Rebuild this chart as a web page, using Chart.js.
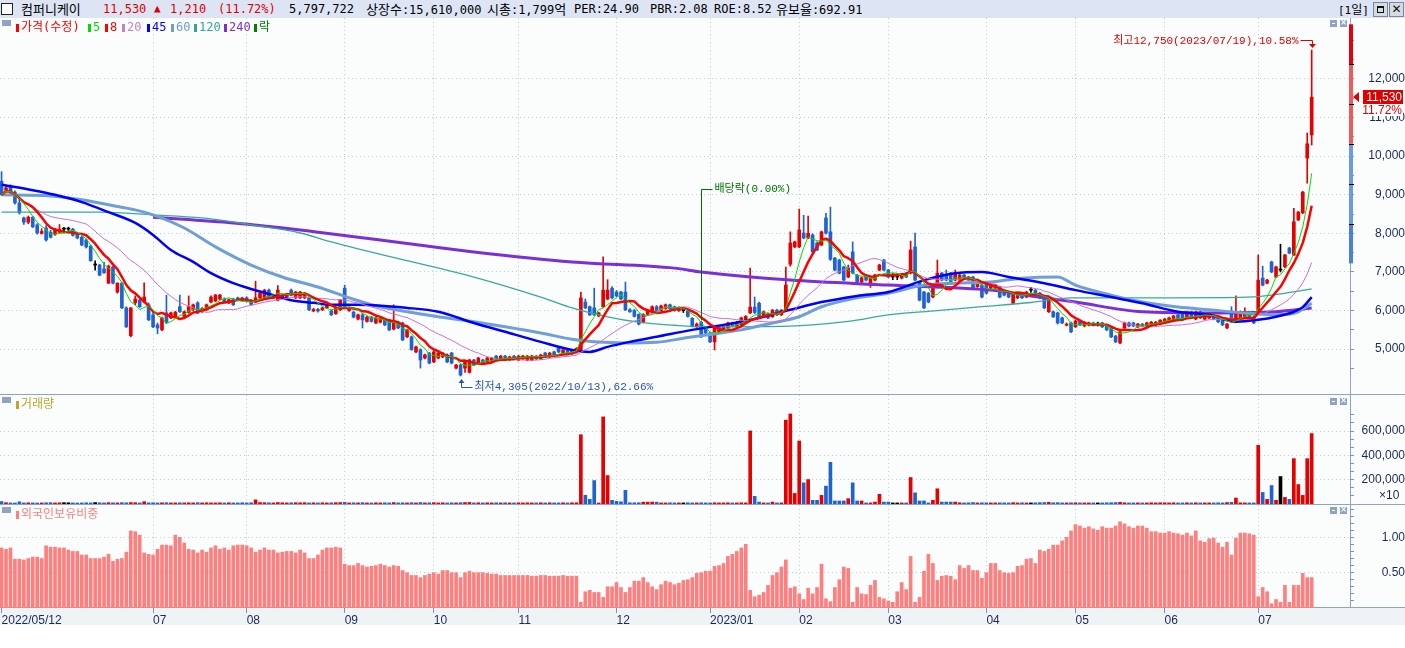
<!DOCTYPE html>
<html><head><meta charset="utf-8">
<script src="https://cdn.jsdelivr.net/npm/chart.js@4.4.1/dist/chart.umd.min.js"></script>
<style>
html,body{margin:0;padding:0;}
body{width:1405px;height:648px;position:relative;overflow:hidden;background:#fff;}
.abs{position:absolute;}
.ht{position:absolute;top:0;height:18px;line-height:18px;white-space:nowrap;font-family:"DejaVu Sans Mono","Noto Sans CJK KR",monospace;font-size:12px;color:#000;}
.ko{font-family:"Noto Sans CJK KR","DejaVu Sans Mono",sans-serif;font-size:13px;}
.sep{position:absolute;background:#8ea3c6;}
canvas{position:absolute;left:0;}
.lt{position:absolute;white-space:nowrap;font-family:"DejaVu Sans Mono","Noto Sans CJK KR",monospace;font-size:12px;line-height:15px;}
.mk{position:absolute;width:3px;height:8px;}
.gsq{position:absolute;width:9px;height:6px;background:#8ea3c6;}
.pb{position:absolute;width:7px;height:7px;background:#8ea3c6;}
.pb i{position:absolute;left:2px;top:3px;width:3px;height:1px;background:#fff;}
.pb b{position:absolute;left:0;top:-4px;width:7px;text-align:center;font:bold 8px "DejaVu Sans";color:#fff;line-height:14px;}
.hb{position:absolute;top:2px;width:13px;height:13px;background:#d6dae2;border:1px solid #7d8798;}
</style></head><body>
<div class="abs" style="left:0;top:0;width:1405px;height:18px;background:#dde5f5;"></div>
<div class="abs" style="left:0;top:18px;width:1405px;height:589px;background:#fbfdfd;"></div>
<div class="abs" style="left:0;top:607px;width:1405px;height:18px;background:#eef3f5;"></div>
<div class="sep" style="left:0;top:394px;width:1405px;height:1px;"></div>
<div class="sep" style="left:0;top:504px;width:1405px;height:1px;"></div>
<div class="sep" style="left:0;top:607px;width:1405px;height:1px;"></div>
<div class="sep" style="left:1350px;top:18px;width:1px;height:589px;"></div>

<canvas id="cp" width="1405" height="376" style="top:18px"></canvas>
<canvas id="cv" width="1405" height="109" style="top:395px"></canvas>
<canvas id="cf" width="1405" height="120" style="top:505px"></canvas>

<!-- header -->
<div class="abs" style="left:1px;top:3px;width:10px;height:10px;background:#fff;border:1px solid #222;"></div>
<div class="ht ko" style="left:21px;">컴퍼니케이</div>
<div class="ht" style="left:103px;color:#e00000;">11,530</div>
<div class="ht" style="left:154px;color:#e00000;font-size:11px;">▲</div>
<div class="ht" style="left:170px;color:#e00000;">1,210</div>
<div class="ht" style="left:218px;color:#e00000;">(11.72%)</div>
<div class="ht" style="left:289px;">5,797,722</div>
<div class="ht" style="left:366px;"><span class="ko">상장수</span>:15,610,000</div>
<div class="ht" style="left:487px;"><span class="ko">시총</span>:1,799<span class="ko">억</span></div>
<div class="ht" style="left:574px;">PER:24.90</div>
<div class="ht" style="left:650px;">PBR:2.08</div>
<div class="ht" style="left:714px;">ROE:8.52</div>
<div class="ht" style="left:776px;"><span class="ko">유보율</span>:692.91</div>
<div class="ht" style="left:1338px;font-size:11px;">[1<span class="ko" style="font-size:12px">일</span>]</div>
<div class="hb" style="left:1373px;"><div style="position:absolute;left:3px;top:3px;width:5px;height:4px;border:1px solid #111;border-top-width:2px;"></div></div>
<div class="hb" style="left:1389px;"><div style="position:absolute;left:0;top:0;width:13px;text-align:center;font:bold 12px 'DejaVu Sans';line-height:13px;color:#111;">✕</div></div>

<!-- price legend -->
<div class="gsq" style="left:2px;top:20px;"></div>
<div id="legend"></div>
<div class="pb" style="left:1330px;top:20px;"><i></i></div>
<div class="pb" style="left:1340px;top:20px;"><b>×</b></div>

<!-- volume legend -->
<div class="gsq" style="left:2px;top:397px;"></div>
<div class="mk" style="left:16px;top:401px;background:#b9a82a;"></div>
<div class="lt" style="left:21px;top:397px;color:#b9a82a;">거래량</div>
<div class="pb" style="left:1330px;top:398px;"><i></i></div>
<div class="pb" style="left:1340px;top:398px;"><b>×</b></div>
<div class="lt" style="left:1379px;top:488px;color:#1b2a55;font-family:'Liberation Sans';">×10</div>

<!-- foreign legend -->
<div class="gsq" style="left:2px;top:507px;"></div>
<div class="mk" style="left:16px;top:511px;background:#ff7f7f;"></div>
<div class="lt" style="left:21px;top:507px;color:#ff7f7f;">외국인보유비중</div>
<div class="pb" style="left:1330px;top:507px;"><i></i></div>
<div class="pb" style="left:1340px;top:507px;"><b>×</b></div>

<script>
// ---------------- data ----------------
const tickLabels = ['2022/05/12','07','08','09','10','11','12','2023/01','02','03','04','05','06','07'];
const monthBars  = [34,21,22,20,19,22,21,20,20,22,20,20,21,13];

const open = [
9350,9120,9200,9070,8790,8400,8290,8420,8220,8000,
8140,8030,7980,8030,8110,8110,8110,8000,7900,7830,
7670,7180,7180,7080,6710,7130,6480,6710,6070,5350,
6200,6270,6220,6150,5890,5630,5500,5940,5810,5840,
6100,5850,5950,6020,6200,5970,6020,6220,6250,6300,
6300,6200,6300,6330,6330,6330,6270,6220,6330,6330,
6530,6330,6270,6330,6330,6530,6330,6330,6330,6330,
5990,6030,6020,6070,5990,5920,6020,6580,6000,5960,
5780,5890,5720,5830,5680,5700,5760,5760,5520,5700,
5680,5320,5320,4930,4990,4770,4900,4670,4770,4800,
4850,4900,4510,4590,4510,4400,4720,4640,4720,4670,
4690,4820,4720,4820,4720,4820,4720,4750,4720,4720,
4820,4750,4900,4800,4930,5030,4880,4980,4880,4930,
4950,6220,6100,6070,5860,6100,6300,6580,6480,6480,
6480,6020,6000,5900,5700,5900,5950,6100,6000,6050,
6150,6100,6000,6000,5980,5800,5580,5700,5550,5420,
5190,5450,5500,5550,5680,5600,5630,5700,5940,6090,
6190,5840,5920,5840,6010,5890,6020,7200,7650,7650,
8010,7880,7960,7750,7700,8400,8040,7360,7310,7130,
6870,7520,6920,6740,6920,6660,6790,7050,7310,7050,
6870,6870,6840,6970,6970,7650,6740,6480,6450,6350,
6610,6970,6920,6970,6790,6790,6920,6870,6870,6620,
6660,6710,6580,6580,6610,6450,6450,6190,6330,6450,
6350,6530,6530,6450,6330,5970,5970,5940,5810,5620,
5680,5580,5730,5600,5620,5680,5650,5680,5620,5550,
5340,5160,5550,5680,5680,5580,5650,5600,5600,5620,
5650,5680,5730,5760,5890,5920,5810,5970,5780,5970,
5780,5810,5890,5840,5780,5550,5970,5710,5810,5810,
5900,5840,6010,6840,6710,7260,6870,7050,7130,7620,
7440,8350,8530,9950,10550];
const high = [
9600,9250,9260,9100,8950,8420,8450,8440,8250,8120,
8200,8080,8130,8230,8160,8160,8130,8020,7930,7860,
7700,7290,7200,7250,7180,7150,6720,6730,6100,6080,
6380,6300,6720,6200,5950,5680,5830,6400,5960,5980,
6400,5990,6380,6170,6230,6080,6170,6380,6420,6420,
6330,6300,6320,6350,6350,6360,6290,6760,6470,6550,
6560,6420,6650,6420,6440,6560,6500,6500,6470,6350,
6060,6060,6090,6170,6010,6090,6290,6660,6090,5990,
5910,5920,5850,5850,5830,5810,5780,5780,6150,5720,
5700,5520,5340,5080,5010,4870,4920,4950,4920,4920,
4880,4920,4610,4610,4690,4740,4740,4790,4740,4790,
4790,4840,4840,4840,4820,4840,4840,4840,4840,4840,
4840,4870,4920,4920,4950,5050,5000,5000,5000,5040,
6480,6300,6120,6580,5960,7390,6800,6620,6520,6500,
6740,6050,6030,5920,5920,6020,6120,6130,6140,6170,
6170,6120,6100,6050,6000,5820,5680,5720,5570,5440,
5600,5600,5620,5700,5700,5720,5830,5870,7100,6350,
6220,5990,5940,6030,6030,6030,7130,8040,7800,8630,
8470,8450,7990,7780,8060,8520,8680,7380,7330,7150,
7180,7780,6940,6870,6940,6860,6940,7200,7330,7070,
6960,6960,6940,6990,7800,8010,6760,6500,6470,6600,
7310,6990,7050,6990,7050,6940,6940,6890,6890,6730,
6680,6730,6680,6680,6630,6470,6470,6470,6470,6470,
6500,6600,6550,6470,6350,6350,5990,5960,5830,5680,
5700,5750,5750,5720,5700,5700,5700,5700,5640,5570,
5360,5470,5700,5700,5700,5670,5670,5700,5720,5720,
5770,5800,5830,5880,5910,5940,5990,5990,5990,5990,
5910,5910,5910,5860,5800,5670,6100,6380,5990,6070,
5920,5860,7440,7150,6810,7280,7150,7720,7460,7640,
8650,8570,9090,10600,12750];
const low = [
8980,9080,9020,8760,8500,8230,8250,8150,7980,7980,
7800,7880,7950,8010,8060,8060,7930,7860,7680,7620,
7280,7050,6900,6960,6700,6690,6450,6050,5560,5320,
6150,6080,6200,5740,5560,5400,5480,5660,5790,5820,
5950,5830,5930,6000,5920,5950,6000,6200,6230,6280,
6200,6180,6130,6250,6250,6220,6140,6200,6310,6310,
6310,6310,6250,6310,6310,6380,6310,6310,6310,6000,
5970,5960,6000,6050,5870,5900,6000,6050,5980,5810,
5760,5550,5700,5700,5660,5680,5610,5480,5500,5530,
5220,5300,4970,4910,4510,4750,4620,4650,4750,4780,
4650,4620,4490,4305,4400,4380,4570,4620,4620,4650,
4670,4700,4700,4700,4700,4730,4700,4730,4700,4700,
4730,4730,4800,4780,4830,4910,4860,4860,4860,4910,
4930,6050,5870,5870,5840,6080,6280,6300,6360,6280,
6000,5950,5830,5630,5680,5880,5930,5980,5980,6030,
6030,5980,5980,5950,5830,5580,5560,5300,5400,5170,
4980,5430,5480,5530,5580,5580,5610,5680,5920,5920,
5820,5820,5790,5820,5870,5870,6000,7150,7630,7630,
7860,7860,7500,7550,7680,7980,7300,7030,6950,6770,
6850,6950,6720,6720,6770,6600,6770,7030,7030,6850,
6800,6800,6820,6850,6950,6770,6250,6050,6200,6330,
6590,6770,6770,6720,6770,6770,6820,6770,6560,6600,
6330,6430,6560,6560,6330,6380,6330,6170,6310,6310,
6330,6470,6380,6310,6050,5950,5820,5650,5660,5600,
5430,5560,5610,5580,5600,5600,5600,5560,5480,5300,
5170,5140,5530,5580,5580,5560,5580,5580,5580,5600,
5630,5660,5710,5740,5740,5740,5790,5790,5760,5790,
5760,5790,5760,5690,5610,5530,5690,5690,5790,5790,
5820,5660,5990,6640,6690,6980,6850,7000,7110,7470,
7420,8330,8510,9300,10290];
const close = [
9000,9180,9070,8790,8530,8290,8420,8170,8010,8050,
7830,7900,8110,8100,8110,8110,7950,7880,7700,7650,
7290,7180,6920,6980,7150,6710,6710,6070,5580,6070,
6300,6100,6350,5760,5580,5550,5810,5690,5940,5960,
5970,5970,6100,6150,5940,6050,6150,6350,6400,6400,
6220,6280,6150,6270,6260,6240,6160,6330,6450,6530,
6330,6400,6530,6400,6420,6400,6480,6480,6450,6020,
6030,5990,6070,6150,5890,6070,6270,6070,6070,5830,
5890,5760,5830,5720,5810,5790,5630,5500,5740,5550,
5240,5500,4990,5060,4720,4850,4640,4930,4900,4900,
4670,4640,4590,4330,4670,4720,4590,4770,4640,4770,
4770,4720,4820,4720,4800,4750,4820,4820,4820,4820,
4750,4850,4820,4900,4850,4930,4980,4880,4980,5020,
6330,6070,5890,5890,5940,6530,6530,6330,6380,6300,
6020,5970,5850,5650,5900,6000,6100,6000,6120,6150,
6050,6000,6080,6000,5850,5600,5650,5320,5420,5190,
5580,5580,5600,5680,5600,5700,5810,5850,6090,5950,
5840,5970,5810,6010,5890,6010,6660,7750,7780,8090,
7880,8000,7520,7570,8040,8010,7330,7050,6970,6790,
7100,6970,6740,6850,6790,6840,6920,7180,7050,6870,
6870,6870,6920,6870,7570,6790,6270,6070,6220,6580,
6970,6790,6790,6740,6970,6920,6840,6790,6580,6710,
6350,6450,6660,6660,6350,6400,6350,6450,6450,6330,
6480,6530,6400,6330,6070,6330,5840,5680,5680,5650,
5450,5730,5630,5700,5680,5620,5650,5580,5500,5320,
5190,5450,5680,5600,5600,5650,5600,5680,5700,5700,
5750,5780,5810,5860,5760,5760,5970,5810,5970,5810,
5890,5890,5780,5710,5630,5650,5710,5970,5970,5970,
5840,5680,6790,6660,6790,7000,7130,7050,7440,7490,
8300,8550,9070,10320,11530];

// volume, shown in units of x10
const volume = [
20000,11000,9000,8000,18000,9000,10000,9000,8000,9000,
10000,11000,9000,10000,11000,10000,9000,8000,9000,10000,
9000,12000,10000,9000,11000,10000,9000,11000,10000,12000,
11000,9000,19000,10000,
10000,9000,10000,11000,9000,9000,10000,9000,10000,9000,
11000,9000,10000,9000,9000,10000,9000,10000,9000,9000,10000,
9000,10000,34000,12000,11000,10000,9000,12000,10000,9000,
10000,11000,10000,11000,9000,10000,9000,10000,9000,10000,11000,12000,
14000,9000,10000,9000,11000,9000,9000,10000,9000,10000,
9000,12000,9000,10000,9000,11000,9000,12000,9000,10000,
11000,9000,10000,9000,10000,9000,11000,12000,13000,9000,
10000,9000,10000,9000,10000,9000,10000,9000,9000,
10000,9000,10000,9000,9000,10000,9000,10000,9000,9000,
10000,9000,10000,10000,570000,72000,38000,193000,8000,717000,234000,30000,
22000,18000,112000,10000,10000,10000,15000,15000,16000,15000,
9000,9000,10000,9000,9000,9000,10000,9000,9000,10000,9000,
9000,10000,9000,9000,10000,9000,9000,10000,9000,601000,
63000,16000,9000,9000,16000,9000,9000,690000,741000,87000,
519000,174000,201000,30000,30000,71000,147000,343000,25000,25000,
25000,44000,174000,25000,25000,9000,9000,16000,80000,16000,
16000,9000,9000,9000,9000,218000,92000,25000,25000,9000,
30000,125000,16000,16000,16000,16000,10000,9000,10000,12000,9000,10000,
10000,9000,9000,10000,9000,9000,11000,9000,10000,9000,
9000,10000,11000,12000,14000,10000,11000,9000,9000,10000,
10000,9000,9000,9000,9000,9000,9000,10000,11000,12000,
14000,10000,9000,9000,9000,9000,9000,10000,9000,10000,
10000,9000,10000,9000,9000,10000,9000,10000,9000,9000,
9000,9000,10000,9000,12000,14000,49000,10000,9000,9000,9000,
483000,95000,38000,152000,30000,226000,54000,38000,373000,160000,
71000,373000,579772];

// foreign ownership ratio (%)
const foreign = [
.85,.83,.85,.69,.69,.68,.70,.72,.72,.70,.88,.86,.86,.85,.85,.82,.80,.80,.75,.75,
.70,.70,.70,.72,.76,.66,.69,.70,.79,1.09,1.08,1.03,.78,.76,.75,.83,.89,.89,.88,1.03,
1.00,.92,.83,.82,.78,.82,.79,.85,.88,.83,.85,.82,.88,.89,.89,.88,.85,.79,.82,.85,
.82,.82,.78,.79,.80,.80,.78,
.82,.78,.70,.70,.75,.82,.85,.85,.86,.85,.62,.60,.60,.63,.60,.58,.59,.60,.62,.60,
.58,.60,.59,.53,.50,.46,.46,.43,.46,.48,.50,.48,.53,.53,.50,.50,.43,.50,.52,.50,
.50,.50,.49,.48,.48,.46,.46,.46,.46,.46,.46,.46,.45,.45,.46,.46,.45,.45,.45,.46,
.45,.45,.45,
.08,.23,.25,.22,.22,.15,.30,.30,.36,.29,.22,.29,.38,.38,.43,.36,.30,.26,.33,.38,
.36,.33,.35,.39,.40,.43,.49,.50,.52,.52,.59,.60,.63,.73,.76,.80,.85,.90,.25,.16,
.18,.22,.32,.46,.50,.58,.68,.28,.30,.20,.12,.28,.20,.29,.62,.13,.09,.29,.40,.58,
.56,.08,.29,.20,.19,.32,.39,.15,.13,.10,.08,.23,.36,.26,.73,.08,.15,.52,.76,.63,
.39,.45,.46,.45,.40,
.60,.56,.60,.53,.53,.42,.50,.63,.63,.53,.50,.49,.50,.59,.60,.69,.70,.63,.82,.80,
.83,.89,.89,.95,1.00,1.09,1.18,1.16,1.13,1.15,1.12,1.10,1.15,1.13,1.13,1.16,1.22,1.19,1.15,1.13,
1.16,1.16,1.13,1.08,1.08,1.06,1.06,1.08,1.06,1.05,1.03,1.06,1.02,1.09,.95,.93,.98,.99,.92,.86,
.93,.75,.99,1.06,1.06,
1.05,1.03,.16,.29,.23,.06,.12,.08,.32,.08,.32,.32,.49,.43,.43];

// long moving averages: [bar index, price]
const ma45Pts = [[0,9260],[7,9120],[12,9000],[18,8810],[24,8550],[30,8270],[34,7960],[38,7570],[43,7260],[47,6970],[52,6710],[56,6560],[61,6400],[65,6270],[70,6200],[74,6150],[80,6150],[91,6070],[98,5970],[106,5680],[113,5450],[121,5190],[128,4980],[132,4930],[136,5060],[141,5190],[147,5320],[155,5500],[162,5630],[170,5810],[177,6020],[184,6220],[192,6380],[199,6480],[207,6790],[214,6970],[220,7000],[226,6870],[234,6710],[241,6530],[249,6350],[256,6190],[264,5970],[271,5890],[277,5710],[282,5760],[286,5840],[290,5970],[292,6090],[294,6350]];
const ma60Pts = [[0,9000],[11,8970],[18,8870],[24,8740],[30,8610],[34,8480],[41,8140],[48,7650],[56,7180],[63,6870],[71,6610],[78,6330],[83,6150],[91,5970],[98,5840],[106,5710],[113,5580],[121,5420],[128,5260],[133,5190],[140,5160],[147,5180],[154,5300],[166,5500],[173,5680],[179,5840],[184,6100],[192,6330],[199,6450],[207,6660],[214,6710],[222,6740],[229,6840],[237,6870],[241,6660],[249,6400],[256,6220],[264,6090],[271,6020],[279,5940],[286,5890],[291,5970],[294,6190]];
const ma120Pts = [[0,8550],[22,8550],[34,8480],[45,8400],[56,8220],[67,8010],[74,7780],[80,7600],[90,7320],[106,6870],[121,6350],[128,6070],[136,5840],[143,5700],[151,5620],[158,5580],[175,5590],[190,5720],[199,5890],[210,6000],[220,6100],[231,6210],[240,6330],[260,6330],[278,6340],[285,6400],[294,6560]];
const ma240Pts = [[34,8420],[52,8270],[67,8090],[80,7900],[91,7740],[106,7520],[128,7260],[151,7100],[157,7000],[177,6790],[199,6660],[222,6530],[231,6380],[241,6220],[256,5970],[271,5940],[286,5970],[294,6070]];

const priceTicks = [5000,6000,7000,8000,9000,10000,11000,12000];
const priceMinor = [4500,5500,6500,7500,8500,9500,10500,11500,12500,13000];
const volTicks = [200000,400000,600000];
const volMinor = [66667,133333,266667,333333,466667,533333,666667,733333];
const fTicks = [0.5,1.0];
const fMinor = [0.1,0.2,0.3,0.4,0.6,0.7,0.8,0.9,1.1,1.2,1.3,1.4];
// daily price-limit band on the axis: +30%, +20%, +10%, prev close, -10%, -20%, -30%
const limitMarks = [13416,12384,11352,10320,9288,8256,7224];
const hiIdx = 294, hiNote = '최고12,750(2023/07/19),10.58%';
const loIdx = 103, loNote = '최저4,305(2022/10/13),62.66%';
const exIdx = 157, exNote = '배당락(0.00%)';
const legendItems = [['가격(수정)','#ff0000',16],['5','#00dd00',88],['8','#ff0000',105],['20','#c77fd6',122],['45','#0000ff',147],['60','#6f9bd0',171],['120','#30a898',194],['240','#7e2fd0',224],['락','#008000',254]];

// ---------------- build ----------------
const leg = document.getElementById('legend');
legendItems.forEach(([t,c,x])=>{
  const m=document.createElement('div'); m.className='mk'; m.style.cssText=`left:${x}px;top:24px;background:${c}`; leg.appendChild(m);
  const s=document.createElement('div'); s.className='lt'; s.style.cssText=`left:${x+5}px;top:20px;color:${c}`; s.textContent=t; leg.appendChild(s);
});

const UP='#e60000', DN='#1f62d0', EVEN='#000000', NAVY='#1b2a55', DOT='#c5cbd2', TICK='#7f93b8';
const N = close.length;
const idx = close.map((_,i)=>i);
const dirColor = idx.map(i=> close[i]>open[i]?UP:(close[i]<open[i]?DN:EVEN));
const tickIdx=[]; monthBars.reduce((s,n)=>{tickIdx.push(s);return s+n;},0);
function sma(src,n){return src.map((_,i)=>{const w=src.slice(Math.max(0,i-n+1),i+1);return w.reduce((a,b)=>a+b,0)/w.length;});}
const fmt = v=>v.toLocaleString('en-US');

Chart.defaults.devicePixelRatio = 1;
Chart.defaults.font.family = 'Liberation Sans';

function xAxis(labels){
  return {type:'linear', min:-0.35, max:302.6, offset:false,
    afterBuildTicks:s=>{s.ticks=tickIdx.map(v=>({value:v}));},
    afterFit:s=>{s.height=labels?17:0; s.paddingLeft=0; s.paddingRight=0;},
    ticks:{display:labels, autoSkip:false, maxRotation:0, minRotation:0, align:'start', padding:0, color:NAVY, font:{family:'Liberation Sans', size:12}, callback:(v,k)=>tickLabels[k]},
    grid:{drawTicks:labels, tickLength:5, tickColor:TICK, tickWidth:1, tickBorderDash:[], lineWidth:1, offset:false, color:c=> c.index===0?'rgba(0,0,0,0)':DOT},
    border:{display:false, dash:[1,3]}};
}
function yAxis(min,max,major,minor,label,pad){
  const all = major.concat(minor);
  return {position:'right', min, max,
    afterBuildTicks:s=>{s.ticks=all.slice().sort((a,b)=>a-b).map(v=>({value:v}));},
    afterFit:s=>{s.width=55; s.paddingTop=0; s.paddingBottom=0;},
    ticks:{autoSkip:false, crossAlign:'far', padding:pad, color:NAVY, font:{family:'Liberation Sans', size:12}, callback:v=>major.includes(v)?label(v):''},
    grid:{drawTicks:true, tickLength:4, tickColor:TICK, tickBorderDash:[], lineWidth:1, color:c=>(c.tick&&major.includes(c.tick.value))?DOT:'rgba(0,0,0,0)'},
    border:{display:false, dash:[1,3]}};
}
const baseOpts = {responsive:false, maintainAspectRatio:false, animation:false, events:[], layout:{padding:0},
  plugins:{legend:{display:false}, tooltip:{enabled:false}}};

function lineDs(points,color,width,order,smooth){
  return {type:'line', data:points, borderColor:color, borderWidth:width, pointRadius:0, fill:false, order,
    tension: smooth?0.4:0, cubicInterpolationMode: smooth?'monotone':'default', borderJoinStyle:'round'};
}
const ma5 = sma(close,5), ma8 = sma(close,8), ma20 = sma(close,20);
const toPts = arr => arr.map((v,i)=>({x:i,y:v}));
const pairPts = arr => arr.map(([i,v])=>({x:i,y:v}));

const annot = {id:'annot', afterDatasetsDraw(chart){
  const ctx=chart.ctx, xs=chart.scales.x, ys=chart.scales.y;
  ctx.save();
  // price limit band on the axis
  const bx=1349;
  const band=(a,b,col)=>{const y1=ys.getPixelForValue(a), y2=ys.getPixelForValue(b); ctx.fillStyle=col; ctx.fillRect(bx,Math.min(y1,y2),4,Math.abs(y2-y1));};
  band(limitMarks[0],limitMarks[1],'#e60012');
  band(limitMarks[1],limitMarks[3],'#f05a5c');
  band(limitMarks[3],limitMarks[5],'#6a9be0');
  band(limitMarks[5],limitMarks[6],'#4b82d8');
  ctx.fillStyle='#000';
  limitMarks.slice(1,6).forEach(v=>{ctx.fillRect(bx,Math.round(ys.getPixelForValue(v)),5,1);});
  // current price label
  const last=N-1, cy=Math.round(ys.getPixelForValue(close[last]));
  const pct=((close[last]-close[last-1])/close[last-1]*100).toFixed(2)+'%';
  ctx.fillStyle='#e00000';
  ctx.beginPath(); ctx.moveTo(1353,cy); ctx.lineTo(1359,cy-5); ctx.lineTo(1359,cy+5); ctx.closePath(); ctx.fill();
  ctx.fillRect(1363,cy-7,40,14);
  ctx.fillStyle='#ffffff'; ctx.fillRect(1363,cy+7,40,12);
  ctx.font='12px "Liberation Sans"'; ctx.textAlign='right'; ctx.textBaseline='middle';
  ctx.fillStyle='#ffffff'; ctx.fillText(fmt(close[last]),1402,cy+1);
  ctx.fillStyle='#e00000'; ctx.fillText(pct,1402,cy+14);
  ctx.font='11px "Liberation Mono","Noto Sans CJK KR"';
  ctx.lineWidth=1;
  // high
  const hx=Math.round(xs.getPixelForValue(hiIdx))+0.5, hy=ys.getPixelForValue(high[hiIdx]);
  const hl=Math.round(hy-10)+0.5;
  ctx.strokeStyle='#e00000'; ctx.fillStyle='#e00000';
  ctx.beginPath(); ctx.moveTo(hx-12,hl); ctx.lineTo(hx,hl); ctx.lineTo(hx,hy-6); ctx.stroke();
  ctx.beginPath(); ctx.moveTo(hx-3.5,hy-6); ctx.lineTo(hx+3.5,hy-6); ctx.lineTo(hx,hy-2); ctx.closePath(); ctx.fill();
  ctx.textAlign='right'; ctx.fillText(hiNote,hx-14,hl+1);
  // low
  const lx=Math.round(xs.getPixelForValue(loIdx))+0.5, ly=ys.getPixelForValue(low[loIdx]);
  const lb=Math.round(ly+11)+0.5;
  ctx.strokeStyle='#2855a8'; ctx.fillStyle='#2855a8';
  ctx.beginPath(); ctx.moveTo(lx,ly+6); ctx.lineTo(lx,lb); ctx.lineTo(lx+11,lb); ctx.stroke();
  ctx.beginPath(); ctx.moveTo(lx-3,ly+7); ctx.lineTo(lx+3,ly+7); ctx.lineTo(lx,ly+3); ctx.closePath(); ctx.fill();
  ctx.textAlign='left'; ctx.fillText(loNote,lx+13,lb);
  // ex-dividend
  const ex=Math.round(xs.getPixelForValue(exIdx))+0.5, eb=ys.getPixelForValue(high[exIdx])-1, et=171.5;
  ctx.strokeStyle='#007000'; ctx.fillStyle='#007000';
  ctx.beginPath(); ctx.moveTo(ex,eb); ctx.lineTo(ex,et); ctx.lineTo(ex+11,et); ctx.stroke();
  ctx.fillText(exNote,ex+13,et);
  ctx.restore();
}};

// price chart
new Chart(document.getElementById('cp'), {
  type:'bar',
  data:{datasets:[
    lineDs(toPts(ma5),'#00e000',1,0,false),
    lineDs(toPts(ma8),'#ff0000',2.5,1,false),
    lineDs(toPts(ma20),'#c870d8',1,2,false),
    lineDs(pairPts(ma45Pts),'#0000ff',2.5,3,true),
    lineDs(pairPts(ma60Pts),'#6f9fd5',3,4,true),
    lineDs(pairPts(ma120Pts),'#3aaa98',1.3,5,true),
    lineDs(pairPts(ma240Pts),'#7b2fd6',3,6,true),
    {type:'bar', data:idx.map(i=>({x:i,y:[Math.min(open[i],close[i]),Math.max(open[i],close[i])]})), backgroundColor:dirColor, barThickness:3, minBarLength:1, grouped:false, borderWidth:0, order:7},
    {type:'bar', data:idx.map(i=>({x:i,y:[low[i],high[i]]})), backgroundColor:dirColor, barThickness:1, grouped:false, borderWidth:0, order:8}
  ]},
  options:Object.assign({}, baseOpts, {scales:{x:xAxis(false), y:yAxis(3839,13580,priceTicks,priceMinor,fmt,11)}}),
  plugins:[annot]
});

// volume chart
new Chart(document.getElementById('cv'), {
  type:'bar',
  data:{datasets:[{data:idx.map(i=>({x:i,y:volume[i]})), backgroundColor:dirColor, barThickness:3, grouped:false, borderWidth:0}]},
  options:Object.assign({}, baseOpts, {scales:{x:xAxis(false), y:yAxis(0,897000,volTicks,volMinor,fmt,5)}})
});

// foreign ownership chart
new Chart(document.getElementById('cf'), {
  type:'bar',
  data:{datasets:[{data:idx.map(i=>({x:i,y:foreign[i]})), backgroundColor:'#ff7f7f', barThickness:3, grouped:false, borderWidth:0}]},
  options:Object.assign({}, baseOpts, {scales:{x:xAxis(true), y:yAxis(0,1.457,fTicks,fMinor,v=>v.toFixed(2),25)}})
});
</script>
</body></html>
